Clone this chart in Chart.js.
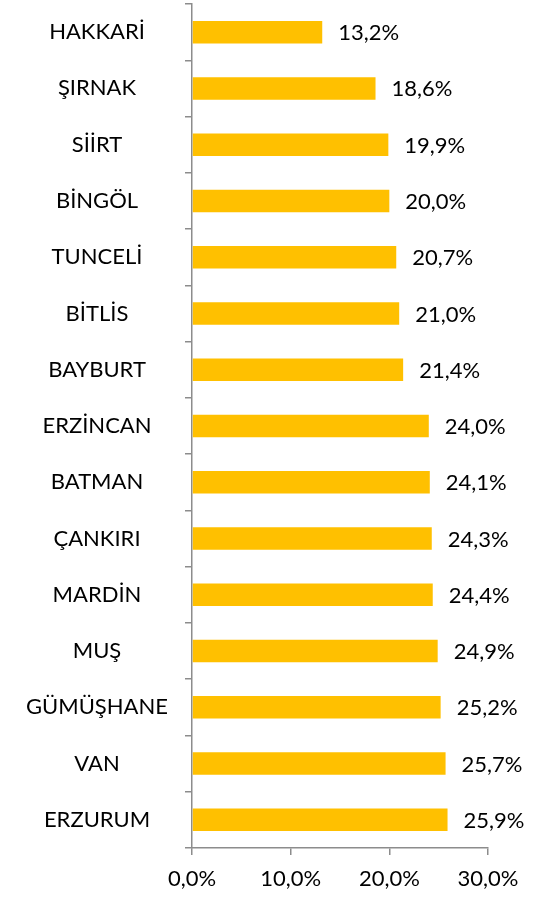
<!DOCTYPE html>
<html>
<head>
<meta charset="utf-8">
<script src="https://cdn.jsdelivr.net/npm/chart.js@4"></script>
<style>
  body { margin: 0; background: #fff; }
  #wrap { width: 541px; height: 897px; }
</style>
</head>
<body>
<div id="wrap"><canvas id="myChart"></canvas></div>
<script>
const provinces = ["HAKKARİ", "ŞIRNAK", "SİİRT", "BİNGÖL", "TUNCELİ", "BİTLİS", "BAYBURT", "ERZİNCAN", "BATMAN", "ÇANKIRI", "MARDİN", "MUŞ", "GÜMÜŞHANE", "VAN", "ERZURUM"];
const rates = [13.2, 18.6, 19.9, 20.0, 20.7, 21.0, 21.4, 24.0, 24.1, 24.3, 24.4, 24.9, 25.2, 25.7, 25.9];
const xTicks = [0, 10, 20, 30];

const fmt = (v) => v.toFixed(1).replace(".", ",") + "%";
const fontFamily = "Lato, 'Open Sans', sans-serif";
const axisColor = "#8c8c8c";

const valueLabels = {
  id: "valueLabels",
  afterDatasetsDraw(chart) {
    const c = chart.ctx;
    const meta = chart.getDatasetMeta(0);
    c.save();
    c.font = "22px " + fontFamily;
    c.fillStyle = "#000";
    c.textAlign = "left";
    c.textBaseline = "middle";
    meta.data.forEach((bar, i) => {
      c.fillText(fmt(rates[i]), bar.x + 16, bar.y + 1);
    });
    c.restore();
  },
};

const ctx = document.getElementById("myChart");
new Chart(ctx, {
  type: "bar",
  data: {
    labels: provinces,
    datasets: [
      {
        data: rates,
        backgroundColor: "#FFC000",
        borderWidth: 0,
        barPercentage: 0.8,
        categoryPercentage: 0.5,
      },
    ],
  },
  options: {
    indexAxis: "y",
    responsive: true,
    maintainAspectRatio: false,
    animation: false,
    layout: { padding: { top: 4, right: 53, left: 0, bottom: 0 } },
    plugins: {
      legend: { display: false },
      tooltip: { enabled: false },
    },
    scales: {
      x: {
        min: 0,
        max: 30,
        afterBuildTicks: (scale) => {
          scale.ticks = xTicks.map((v) => ({ value: v }));
        },
        afterFit: (scale) => {
          scale.height = 49;
          scale.paddingLeft = 0;
          scale.paddingRight = 0;
        },
        border: { display: true, color: axisColor, width: 1.5 },
        grid: {
          drawOnChartArea: false,
          drawTicks: true,
          tickLength: 7,
          color: axisColor,
          lineWidth: 1.5,
        },
        ticks: {
          color: "#000",
          padding: 11,
          maxRotation: 0,
          font: { family: fontFamily, size: 22 },
          callback: (v) => fmt(v),
        },
      },
      y: {
        afterFit: (scale) => {
          scale.width = 192;
          scale.paddingTop = 0;
          scale.paddingBottom = 0;
        },
        border: { display: true, color: axisColor, width: 1.5 },
        grid: {
          offset: true,
          drawOnChartArea: false,
          drawTicks: true,
          tickLength: 7,
          color: axisColor,
          lineWidth: 1.5,
        },
        ticks: {
          color: "#000",
          crossAlign: "center",
          padding: 17,
          font: { family: fontFamily, size: 22 },
        },
      },
    },
  },
  plugins: [valueLabels],
});
</script>
</body>
</html>
